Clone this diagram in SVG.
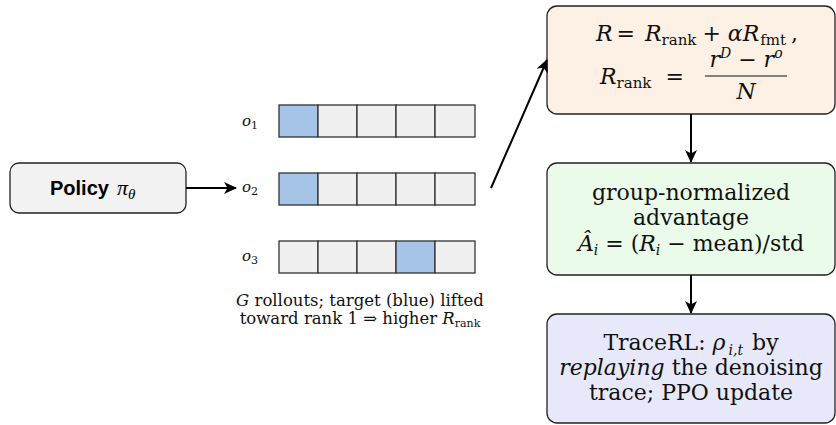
<svg xmlns="http://www.w3.org/2000/svg" width="836" height="425" viewBox="0 0 836 425">
<defs>
<marker id="arr" markerUnits="userSpaceOnUse" markerWidth="14" markerHeight="12" viewBox="0 0 14 12" refX="12" refY="6" orient="auto">
<path d="M0,0 L13,6 L0,12 L3.5,6 z" fill="#000"/>
</marker>
<style>
.box{stroke:#222;stroke-width:1.3}
.cell{fill:#f0f0f0;stroke:#333;stroke-width:1.3}
.blue{fill:#a6c4e8}
.conn{stroke:#000;stroke-width:2;fill:none;marker-end:url(#arr)}
.t{font-family:"DejaVu Serif","Liberation Serif",serif;fill:#111}
.m{font-style:italic}
.big{font-size:22px}
.cap{font-size:16.5px}
</style>
</defs>
<rect width="836" height="425" fill="#fff"/>

<g id="policy">
<rect class="box" x="10" y="163" width="176" height="50" rx="9" fill="#f2f2f2"/>
<text x="50" y="195" style="font-size:20px"><tspan style="font-family:'Liberation Sans','DejaVu Sans',sans-serif;font-weight:bold">Policy</tspan><tspan dx="8" font-size="22" font-style="italic" font-family="Liberation Serif, serif">π</tspan><tspan font-size="15" dy="4" font-style="italic" font-family="Liberation Serif, serif">θ</tspan></text>
</g>

<g id="rollouts">
<g id="row1">
<rect class="cell blue" x="279" y="105" width="39" height="32"/>
<rect class="cell" x="318" y="105" width="39" height="32"/>
<rect class="cell" x="357" y="105" width="39" height="32"/>
<rect class="cell" x="396" y="105" width="39" height="32"/>
<rect class="cell" x="435" y="105" width="40" height="32"/>
<text class="t m" x="242" y="126" font-size="15">o<tspan font-size="11" dy="3" font-style="normal">1</tspan></text>
</g>
<g id="row2">
<rect class="cell blue" x="279" y="173" width="39" height="32"/>
<rect class="cell" x="318" y="173" width="39" height="32"/>
<rect class="cell" x="357" y="173" width="39" height="32"/>
<rect class="cell" x="396" y="173" width="39" height="32"/>
<rect class="cell" x="435" y="173" width="40" height="32"/>
<text class="t m" x="242" y="192" font-size="15">o<tspan font-size="11" dy="3" font-style="normal">2</tspan></text>
</g>
<g id="row3">
<rect class="cell" x="279" y="241" width="39" height="32"/>
<rect class="cell" x="318" y="241" width="39" height="32"/>
<rect class="cell" x="357" y="241" width="39" height="32"/>
<rect class="cell blue" x="396" y="241" width="39" height="32"/>
<rect class="cell" x="435" y="241" width="40" height="32"/>
<text class="t m" x="242" y="261" font-size="15">o<tspan font-size="11" dy="3" font-style="normal">3</tspan></text>
</g>
<text class="t cap" x="360" y="306" text-anchor="middle"><tspan class="m">G</tspan> rollouts; target (blue) lifted</text>
<text class="t cap" x="360" y="324" text-anchor="middle">toward rank 1 ⇒ higher <tspan class="m">R</tspan><tspan font-size="11" dy="3">rank</tspan></text>
</g>

<g id="reward">
<rect class="box" x="547" y="6" width="288" height="108" rx="10" fill="#fdf0e4"/>
<text class="t big" x="697" y="41" text-anchor="middle"><tspan class="m">R</tspan><tspan dx="4">=</tspan><tspan class="m" dx="10">R</tspan><tspan font-size="15" dy="4">rank</tspan><tspan dy="-4" dx="6">+</tspan><tspan class="m" dx="7">αR</tspan><tspan font-size="15" dy="4" dx="1">fmt</tspan><tspan dy="-4" dx="5">,</tspan></text>
<text class="t big" x="600" y="84"><tspan class="m">R</tspan><tspan font-size="15" dy="4">rank</tspan><tspan dy="-4" dx="14">=</tspan></text>
<text class="t big" x="746" y="67" text-anchor="middle"><tspan class="m">r</tspan><tspan class="m" font-size="14" dy="-9">D</tspan><tspan dy="9"> − </tspan><tspan class="m">r</tspan><tspan class="m" font-size="14" dy="-9">o</tspan></text>
<line x1="705" y1="76" x2="787" y2="76" stroke="#111" stroke-width="1.2"/>
<text class="t big m" x="746" y="99" text-anchor="middle">N</text>
</g>

<g id="advantage">
<rect class="box" x="547" y="163" width="288" height="112" rx="10" fill="#eafbea"/>
<text class="t big" x="691" y="200" text-anchor="middle">group-normalized</text>
<text class="t big" x="691" y="225" text-anchor="middle">advantage</text>
<text class="t big" x="691" y="251" text-anchor="middle"><tspan class="m">Â</tspan><tspan class="m" font-size="14" dy="4">i</tspan><tspan dy="-4"> = (</tspan><tspan class="m">R</tspan><tspan class="m" font-size="14" dy="4">i</tspan><tspan dy="-4"> − mean)/std</tspan></text>
</g>

<g id="tracerl">
<rect class="box" x="547" y="314" width="288" height="109" rx="10" fill="#e8e8fb"/>
<text class="t big" x="691" y="350" text-anchor="middle">TraceRL: <tspan class="m">ρ</tspan><tspan class="m" font-size="14" dy="5" dx="3">i,t</tspan><tspan dy="-5" dx="2"> by</tspan></text>
<text class="t big" x="691" y="375" text-anchor="middle"><tspan class="m">replaying</tspan> the denoising</text>
<text class="t big" x="691" y="400" text-anchor="middle">trace; PPO update</text>
</g>

<g id="connectors">
<line class="conn" x1="186" y1="188" x2="236" y2="188"/>
<line class="conn" x1="491" y1="188" x2="547" y2="60"/>
<line class="conn" x1="691" y1="114" x2="691" y2="162"/>
<line class="conn" x1="691" y1="275" x2="691" y2="313"/>
</g>
</svg>
